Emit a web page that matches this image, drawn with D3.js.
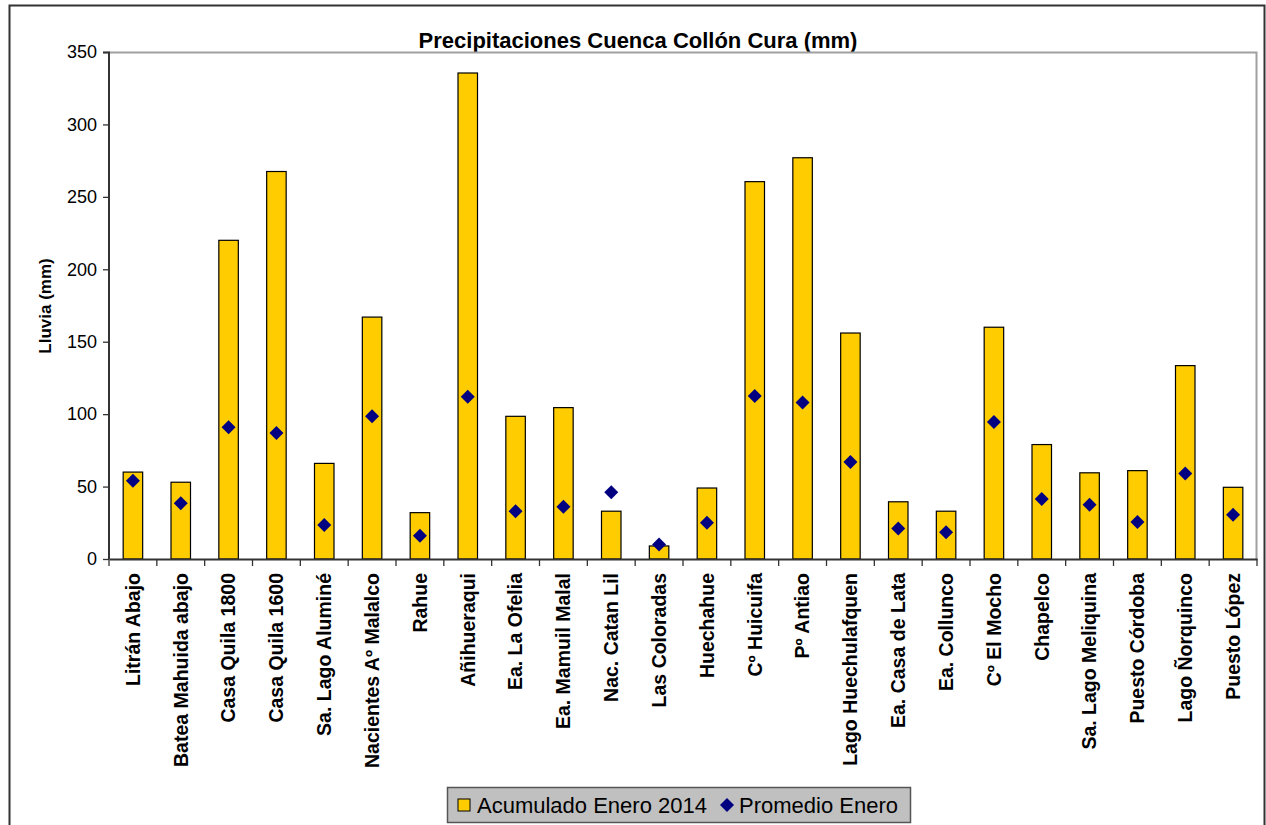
<!DOCTYPE html>
<html>
<head>
<meta charset="utf-8">
<script src="https://cdn.jsdelivr.net/npm/d3@7"></script>
<style>
  body { margin: 0; background: #fff; }
  svg { font-family: Arial, "Liberation Sans", sans-serif; }
</style>
</head>
<body>
<script>
// Estaciones (categorias)
var estaciones = ["Litrán Abajo", "Batea Mahuida abajo", "Casa Quila 1800", "Casa Quila 1600",
  "Sa. Lago Aluminé", "Nacientes Aº Malalco", "Rahue", "Añihueraqui", "Ea. La Ofelia",
  "Ea. Mamuil Malal", "Nac. Catan Lil", "Las Coloradas", "Huechahue", "Cº Huicuifa",
  "Pº Antiao", "Lago Huechulafquen", "Ea. Casa de Lata", "Ea. Collunco", "Cº El Mocho",
  "Chapelco", "Sa. Lago Meliquina", "Puesto Córdoba", "Lago Ñorquinco", "Puesto López"];

// Acumulado Enero 2014 (mm)
var acumulado = [60, 53, 220, 267.5, 66, 167, 32, 335.5, 98.5, 104.5, 33, 9, 49, 260.5,
  277, 156, 39.5, 33, 160, 79, 59.5, 61, 133.5, 49.5];

// Promedio Enero (mm)
var promedio = [54, 38.5, 91, 87, 23.5, 98.5, 16, 112, 33, 36, 46, 10, 25, 112.5,
  108, 67, 21, 18.5, 94.5, 41.5, 37.5, 25.5, 59, 30.5];

var yTicks = [0, 50, 100, 150, 200, 250, 300, 350];

var svgWidth = 1266;
var svgHeight = 825;

var chartMargin = { top: 52, right: 9, bottom: 266, left: 109 };
var chartWidth = 1257 - chartMargin.left;
var chartHeight = 559 - chartMargin.top;

var svg = d3.select("body")
  .append("svg")
  .attr("width", svgWidth)
  .attr("height", svgHeight);

// outer frame
svg.append("rect")
  .attr("x", 9.5).attr("y", 5.5)
  .attr("width", 1255).attr("height", 830)
  .attr("fill", "#fff")
  .attr("stroke", "#333")
  .attr("stroke-width", 2);

svg.append("text")
  .attr("x", 638).attr("y", 48)
  .attr("text-anchor", "middle")
  .style("font-size", "22px")
  .style("font-weight", "bold")
  .text("Precipitaciones Cuenca Collón Cura (mm)");

var chartGroup = svg.append("g")
  .attr("transform", `translate(${chartMargin.left}, ${chartMargin.top})`);

var xBandScale = d3.scaleBand()
  .domain(estaciones)
  .range([0, chartWidth])
  .paddingInner(0)
  .paddingOuter(0);

var yLinearScale = d3.scaleLinear()
  .domain([0, 350])
  .range([chartHeight, 0]);

// plot area border (gray top and right)
chartGroup.append("path")
  .attr("d", `M0,0.5 H${chartWidth - 0.5} V${chartHeight}`)
  .attr("fill", "none")
  .attr("stroke", "#a0a0a0")
  .attr("stroke-width", 2);

var barWidth = 19.5;

chartGroup.selectAll(".bar")
  .data(estaciones)
  .enter()
  .append("rect")
  .attr("class", "bar")
  .attr("x", (d) => xBandScale(d) + xBandScale.bandwidth() / 2 - barWidth / 2)
  .attr("y", (d, i) => yLinearScale(acumulado[i]))
  .attr("width", barWidth)
  .attr("height", (d, i) => chartHeight - yLinearScale(acumulado[i]))
  .attr("fill", "#FFCC00")
  .attr("stroke", "#000")
  .attr("stroke-width", 1.2);

chartGroup.selectAll(".diamond")
  .data(estaciones)
  .enter()
  .append("path")
  .attr("class", "diamond")
  .attr("transform", (d, i) => `translate(${xBandScale(d) + xBandScale.bandwidth() / 2}, ${yLinearScale(promedio[i])})`)
  .attr("d", "M0,-7 L7,0 L0,7 L-7,0 Z")
  .attr("fill", "#000080");

// axes
var leftAxis = d3.axisLeft(yLinearScale).tickValues(yTicks).tickSize(6).tickPadding(6);
var bottomAxis = d3.axisBottom(xBandScale).tickSize(0).tickPadding(0);

var yAxisG = chartGroup.append("g").call(leftAxis);
yAxisG.select(".domain").attr("stroke", "#333").attr("stroke-width", 2).attr("d", `M-6,0.5 H0 V${chartHeight}`);
yAxisG.selectAll(".tick line").attr("stroke", "#333").attr("stroke-width", 1.3);
yAxisG.selectAll("text")
  .style("font-size", "18px")
  .style("font-family", "Arial, 'Liberation Sans', sans-serif")
  .attr("fill", "#000");

var xAxisG = chartGroup.append("g")
  .attr("transform", `translate(0, ${chartHeight})`)
  .call(bottomAxis);
xAxisG.select(".domain").attr("stroke", "#333").attr("stroke-width", 2);

// category boundary ticks
xAxisG.selectAll(".sep")
  .data(estaciones.concat(["end"]))
  .enter()
  .append("line")
  .attr("x1", (d, i) => i * xBandScale.bandwidth())
  .attr("x2", (d, i) => i * xBandScale.bandwidth())
  .attr("y1", 0)
  .attr("y2", 7)
  .attr("stroke", "#333")
  .attr("stroke-width", 1.3);

xAxisG.selectAll(".tick text")
  .attr("transform", "rotate(-90)")
  .attr("x", -14)
  .attr("y", 0)
  .attr("dy", "0.35em")
  .attr("text-anchor", "end")
  .style("font-size", "19.5px")
  .style("font-weight", "bold")
  .style("font-family", "Arial, 'Liberation Sans', sans-serif")
  .attr("fill", "#000");

// y axis title
svg.append("text")
  .attr("transform", "translate(51, 306) rotate(-90)")
  .attr("text-anchor", "middle")
  .style("font-size", "17px")
  .style("font-weight", "bold")
  .text("Lluvia (mm)");

// legend
var legend = svg.append("g");
legend.append("rect")
  .attr("x", 447.5).attr("y", 787.5)
  .attr("width", 463).attr("height", 35)
  .attr("fill", "#c0c0c0")
  .attr("stroke", "#555")
  .attr("stroke-width", 1.5);

var seriesNames = ["Acumulado Enero 2014", "Promedio Enero"];

legend.append("rect")
  .attr("x", 458).attr("y", 799)
  .attr("width", 12).attr("height", 12)
  .attr("fill", "#FFCC00")
  .attr("stroke", "#000");
legend.append("text")
  .attr("x", 477).attr("y", 813)
  .style("font-size", "22px")
  .text(seriesNames[0]);

legend.append("path")
  .attr("transform", "translate(727, 805)")
  .attr("d", "M0,-7 L7,0 L0,7 L-7,0 Z")
  .attr("fill", "#000080");
legend.append("text")
  .attr("x", 739).attr("y", 813)
  .style("font-size", "22px")
  .text(seriesNames[1]);
</script>
</body>
</html>
